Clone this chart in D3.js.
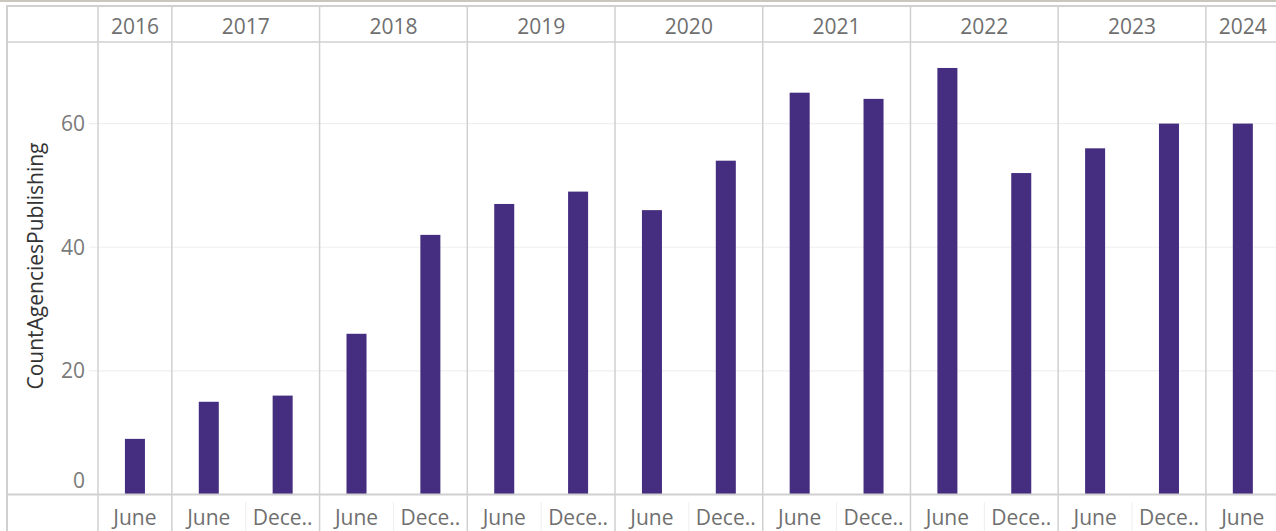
<!DOCTYPE html>
<html lang="en">
<head>
<meta charset="utf-8">
<title>CountAgenciesPublishing</title>
<script src="https://d3js.org/d3.v7.min.js"></script>
<style>
  body { margin: 0; background: #fff; }
  svg { display: block; }
  text { font-family: "Open Sans", sans-serif; }
</style>
</head>
<body>
<div id="stage"></div>
<script>
// data
var periods = ["June", "June", "Dece..", "June", "Dece..", "June", "Dece..",
               "June", "Dece..", "June", "Dece..", "June", "Dece..", "June", "Dece..", "June"];
var periodYears = ["2016", "2017", "2017", "2018", "2018", "2019", "2019",
                   "2020", "2020", "2021", "2021", "2022", "2022", "2023", "2023", "2024"];
var counts = [9, 15, 16, 26, 42, 47, 49, 46, 54, 65, 64, 69, 52, 56, 60, 60];
var yTicks = [0, 20, 40, 60];

var W = 1276, H = 531;
var plotLeft = 98, colW = 73.86;
var plotTop = 42, base = 494.5;

var svg = d3.select("#stage").append("svg").attr("width", W).attr("height", H);

var keys = periods.map(function (p, i) { return periodYears[i] + "-" + i; });
var x = d3.scaleBand().domain(keys)
  .range([plotLeft, plotLeft + colW * keys.length])
  .paddingInner(0.729).paddingOuter(0.3645);
var y = d3.scaleLinear().domain([0, 73.2]).range([base, plotTop]);

// start of a column cell
function cellStart(k) { return x(k) - x.step() * x.paddingOuter(); }

// year spans
var yearList = Array.from(new Set(periodYears));
var yearSpan = yearList.map(function (yr) {
  var idx = keys.filter(function (k, i) { return periodYears[i] == yr; });
  return { year: yr, x0: cellStart(idx[0]), x1: cellStart(idx[idx.length - 1]) + x.step() };
});

// top band
svg.append("rect").attr("x", 0).attr("y", 0).attr("width", W).attr("height", 2).attr("fill", "#c9c6bc");

// gridlines
svg.selectAll(".grid").data(yTicks.filter(function (d) { return d > 0; })).enter()
  .append("line")
  .attr("x1", 89).attr("x2", W)
  .attr("y1", function (d) { return y(d); }).attr("y2", function (d) { return y(d); })
  .attr("stroke", "#efefef").attr("stroke-width", 1.2);

// faint month separators in the bottom row
keys.forEach(function (k, i) {
  if (i > 0 && periodYears[i] == periodYears[i - 1]) {
    var xs = cellStart(k);
    svg.append("line").attr("x1", xs).attr("x2", xs).attr("y1", 502).attr("y2", H)
      .attr("stroke", "#eeeeee").attr("stroke-width", 1);
  }
});

// bars
svg.selectAll(".bar").data(counts).enter().append("rect")
  .attr("x", function (d, i) { return x(keys[i]); })
  .attr("width", x.bandwidth())
  .attr("y", function (d) { return y(d); })
  .attr("height", function (d) { return base - y(d); })
  .attr("fill", "#452d80");

// frame lines
var lineCol = "#d0d0d0";
svg.append("line").attr("x1", 7).attr("x2", W).attr("y1", 6).attr("y2", 6).attr("stroke", lineCol).attr("stroke-width", 2);
svg.append("line").attr("x1", 7).attr("x2", 7).attr("y1", 5).attr("y2", H).attr("stroke", lineCol).attr("stroke-width", 2);
svg.append("line").attr("x1", 7).attr("x2", W).attr("y1", plotTop).attr("y2", plotTop).attr("stroke", lineCol).attr("stroke-width", 1.5);
svg.append("line").attr("x1", 7).attr("x2", W).attr("y1", base).attr("y2", base).attr("stroke", lineCol).attr("stroke-width", 2);
svg.append("line").attr("x1", plotLeft).attr("x2", plotLeft).attr("y1", 6).attr("y2", H).attr("stroke", lineCol).attr("stroke-width", 1.5);

yearSpan.forEach(function (s, i) {
  if (i > 0) {
    svg.append("line").attr("x1", s.x0).attr("x2", s.x0).attr("y1", 6).attr("y2", H)
      .attr("stroke", lineCol).attr("stroke-width", 1.5);
  }
});

// year labels
svg.selectAll(".yr").data(yearSpan).enter().append("text")
  .attr("x", function (d) { return (d.x0 + d.x1) / 2; })
  .attr("y", 34)
  .attr("text-anchor", "middle")
  .attr("font-size", 21)
  .attr("fill", "#6f6f6f")
  .text(function (d) { return d.year; });

// month labels
svg.selectAll(".mo").data(periods).enter().append("text")
  .attr("x", function (d, i) { return x(keys[i]) + x.bandwidth() / 2; })
  .attr("y", 525)
  .attr("text-anchor", "middle")
  .attr("font-size", 21)
  .attr("fill", "#6f6f6f")
  .text(function (d) { return d; });

// y tick labels
svg.selectAll(".yt").data(yTicks).enter().append("text")
  .attr("x", 85)
  .attr("y", function (d) { return d == 0 ? 488 : y(d) + 7.5; })
  .attr("text-anchor", "end")
  .attr("font-size", 21)
  .attr("fill", "#7a7a7a")
  .text(function (d) { return d; });

// axis title
svg.append("text")
  .attr("transform", "translate(43,266) rotate(-90)")
  .attr("text-anchor", "middle")
  .attr("font-size", 21)
  .attr("fill", "#333")
  .text("CountAgenciesPublishing");
</script>
</body>
</html>
